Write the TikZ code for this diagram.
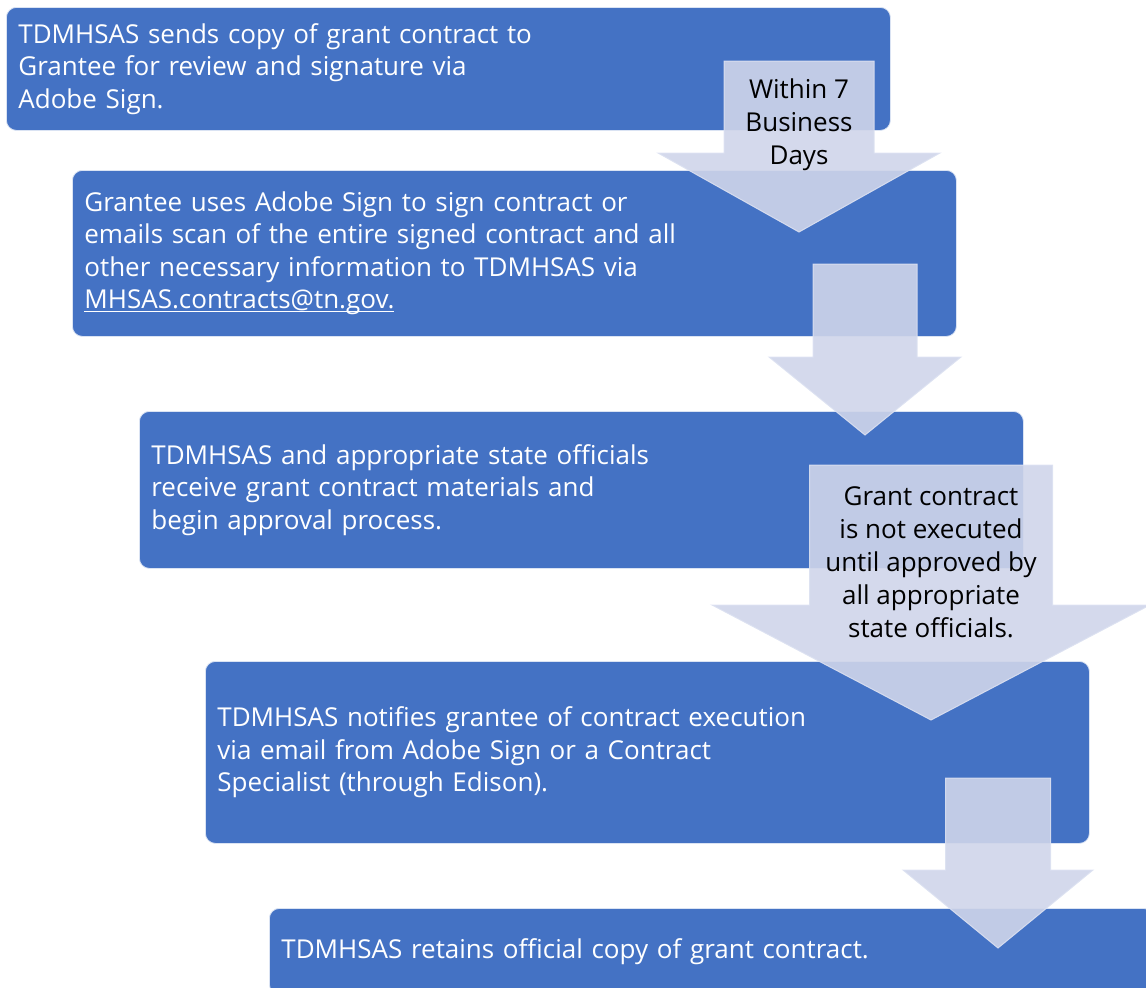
\documentclass[tikz,border=0pt]{standalone}
\usepackage{fontspec}
\setmainfont{Open Sans}
\usetikzlibrary{positioning}

\definecolor{stepblue}{HTML}{4472C4}
\definecolor{arrowtint}{HTML}{CFD5EA}
\definecolor{arrowedge}{HTML}{DCE1F1}

% down arrow: centre x, top, start of head, tip, half shaft, half head
\newcommand{\flowarrow}[6]{%
  \fill[arrowtint, fill opacity=0.9, draw=arrowedge, draw opacity=0.9, line width=1pt]
    (#1-#5,#2) -- (#1+#5,#2) -- (#1+#5,#3) -- (#1+#6,#3) -- (#1,#4)
    -- (#1-#6,#3) -- (#1-#5,#3) -- cycle;}
% thin underline for the mail address
\newcommand{\mailline}[1]{\leavevmode\setbox0\hbox{#1}\rlap{\rule[-3.5pt]{\wd0}{1.2pt}}\box0}

\begin{document}
\begin{tikzpicture}[
  x=1pt, y=-1pt,
  stepbox/.style={rectangle, rounded corners=10pt, fill=stepblue, draw=white!80!stepblue,
    line width=0.8pt, anchor=north west, minimum width=884pt, text width=860pt,
    inner xsep=12pt, inner ysep=0pt, align=left, text=white,
    font=\fontsize{26}{32.5}\selectfont},
  arrowtext/.style={align=center, text=black, font=\fontsize{26}{33}\selectfont}
]
\useasboundingbox (0,0) rectangle (1146,988);
\clip (0,0) rectangle (1146,988);

% Pasos
\node[stepbox, minimum height=123pt] (send) at (6,7)
  {TDMHSAS sends copy of grant contract to\\Grantee for review and signature via\\Adobe Sign.};
\node[stepbox, minimum height=166pt] (sign) at (72,170)
  {Grantee uses Adobe Sign to sign contract or\\emails scan of the entire signed contract and all\\other necessary information to TDMHSAS via\\\mailline{MHSAS.contracts@tn.gov.}};
\node[stepbox, minimum height=157pt] (receive) at (139,411)
  {TDMHSAS and appropriate state officials\\receive grant contract materials and\\begin approval process.};
\node[stepbox, minimum height=182pt] (notify) at (205,661)
  {TDMHSAS notifies grantee of contract execution\\via email from Adobe Sign or a Contract\\Specialist (through Edison).};
\node[stepbox, minimum height=86pt] (retain) at (269,908)
  {TDMHSAS retains official copy of grant contract.};

% Flechas
\flowarrow{799}{61}{153}{232}{75}{141}
\flowarrow{865}{264}{357}{435}{52}{96}
\flowarrow{931}{465}{605}{720}{121.5}{219}
\flowarrow{998}{778}{870}{948}{52.5}{95}

\node[arrowtext] (within) at (799,125) {Within 7\\Business\\Days};
\node[arrowtext] (approval) at (931,562)
  {Grant contract\\is not executed\\until approved by\\all appropriate\\state officials.};

\end{tikzpicture}
\end{document}
